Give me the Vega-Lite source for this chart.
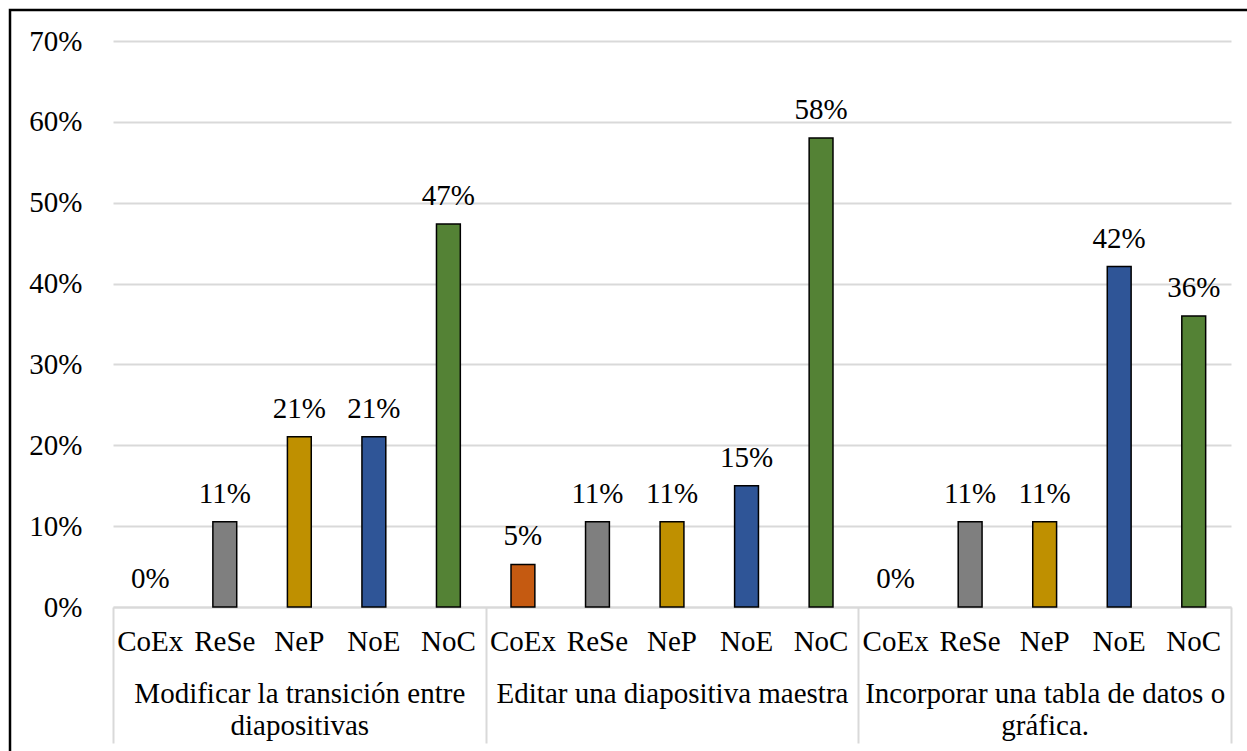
{
  "$schema": "https://vega.github.io/schema/vega-lite/v6.json",
  "width": 1240,
  "height": 745,
  "autosize": {"type": "none"},
  "padding": {"left": 10, "top": 10, "right": -3, "bottom": -4},
  "background": "white",
  "config": {
    "view": {"stroke": "black", "strokeWidth": 2.5},
    "font": "Liberation Serif",
    "axis": {"labelColor": "black", "labelFont": "Liberation Serif", "labelFontSize": 29}
  },
  "data": {
    "values": [
      {"grupo": "Modificar la transición entre diapositivas", "nivel": "CoEx", "valor": 0},
      {"grupo": "Modificar la transición entre diapositivas", "nivel": "ReSe", "valor": 0.1053},
      {"grupo": "Modificar la transición entre diapositivas", "nivel": "NeP", "valor": 0.2105},
      {"grupo": "Modificar la transición entre diapositivas", "nivel": "NoE", "valor": 0.2105},
      {"grupo": "Modificar la transición entre diapositivas", "nivel": "NoC", "valor": 0.4737},
      {"grupo": "Editar una diapositiva maestra", "nivel": "CoEx", "valor": 0.0526},
      {"grupo": "Editar una diapositiva maestra", "nivel": "ReSe", "valor": 0.1053},
      {"grupo": "Editar una diapositiva maestra", "nivel": "NeP", "valor": 0.1053},
      {"grupo": "Editar una diapositiva maestra", "nivel": "NoE", "valor": 0.15},
      {"grupo": "Editar una diapositiva maestra", "nivel": "NoC", "valor": 0.58},
      {"grupo": "Incorporar una tabla de datos o gráfica.", "nivel": "CoEx", "valor": 0},
      {"grupo": "Incorporar una tabla de datos o gráfica.", "nivel": "ReSe", "valor": 0.1053},
      {"grupo": "Incorporar una tabla de datos o gráfica.", "nivel": "NeP", "valor": 0.1053},
      {"grupo": "Incorporar una tabla de datos o gráfica.", "nivel": "NoE", "valor": 0.421},
      {"grupo": "Incorporar una tabla de datos o gráfica.", "nivel": "NoC", "valor": 0.36}
    ]
  },
  "layer": [
    {
      "transform": [{"calculate": "datum.grupo + '|' + datum.nivel", "as": "clave"}],
      "encoding": {
        "x": {
          "field": "clave",
          "type": "nominal",
          "sort": null,
          "scale": {"range": [103, 1221], "paddingInner": 0.68, "paddingOuter": 0.34},
          "axis": {
            "orient": "bottom",
            "offset": -148,
            "title": null,
            "labelExpr": "split(datum.label, '|')[1]",
            "labelAngle": 0,
            "labelBaseline": "alphabetic",
            "labelPadding": 43,
            "labelOverlap": false,
            "labelFlush": false,
            "labelLimit": 0,
            "ticks": false,
            "domain": true,
            "domainColor": "#d9d9d9",
            "domainWidth": 2,
            "grid": false
          }
        },
        "y": {
          "field": "valor",
          "type": "quantitative",
          "scale": {"domain": [0, 0.7], "range": [597, 31], "nice": false, "zero": true},
          "axis": {
            "orient": "left",
            "offset": -103,
            "title": null,
            "format": ".0%",
            "values": [0, 0.1, 0.2, 0.3, 0.4, 0.5, 0.6, 0.7],
            "domain": false,
            "ticks": false,
            "labelPadding": 31,
            "grid": true,
            "gridColor": "#d9d9d9",
            "gridWidth": 2
          }
        }
      },
      "layer": [
        {
          "mark": {"type": "bar", "stroke": "black", "strokeWidth": 1.5},
          "encoding": {
            "color": {
              "field": "nivel",
              "type": "nominal",
              "scale": {"domain": ["CoEx", "ReSe", "NeP", "NoE", "NoC"], "range": ["#C55A11", "#7F7F7F", "#BF9000", "#2F5597", "#548235"]},
              "legend": null
            },
            "strokeOpacity": {"condition": {"test": "datum.valor == 0", "value": 0}, "value": 1}
          }
        },
        {
          "mark": {"type": "text", "baseline": "alphabetic", "dy": -19, "fontSize": 29, "font": "Liberation Serif", "color": "black"},
          "encoding": {"text": {"field": "valor", "type": "quantitative", "format": ".0%"}}
        }
      ]
    },
    {
      "mark": {"type": "bar", "opacity": 0},
      "encoding": {
        "x": {
          "field": "grupo",
          "type": "nominal",
          "sort": null,
          "scale": {"range": [103, 1221], "paddingInner": 0, "paddingOuter": 0},
          "axis": {
            "orient": "bottom",
            "offset": -148,
            "title": null,
            "labelAngle": 0,
            "labelExpr": "datum.label == 'Modificar la transición entre diapositivas' ? ['Modificar la transición entre', 'diapositivas'] : datum.label == 'Incorporar una tabla de datos o gráfica.' ? ['Incorporar una tabla de datos o', 'gráfica.'] : datum.label",
            "labelBaseline": "top",
            "labelLineHeight": 32,
            "labelPadding": -64,
            "labelLimit": 0,
            "labelOverlap": false,
            "labelFlush": false,
            "labelBound": false,
            "domain": false,
            "ticks": true,
            "tickBand": "extent",
            "tickSize": 136,
            "tickColor": "#d9d9d9",
            "tickWidth": 2,
            "grid": false
          }
        },
        "y": {"field": "valor", "type": "quantitative"}
      }
    }
  ],
  "resolve": {"scale": {"x": "independent"}, "axis": {"x": "independent"}}
}
